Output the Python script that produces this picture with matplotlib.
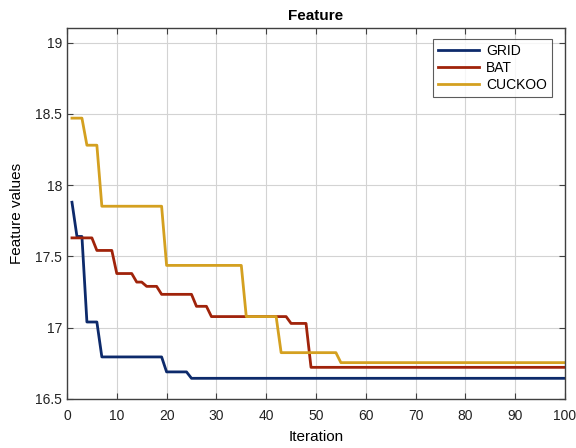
import numpy as np
import matplotlib
matplotlib.use("Agg")
import matplotlib.pyplot as plt

plt.rcParams['font.family'] = ['Liberation Sans', 'DejaVu Sans']

n_iter = 100

# Step-wise convergence curves: iteration where each level starts, and the level
grid_start = [1, 2, 4, 7, 20, 25]
grid_vals = [17.88, 17.64, 17.04, 16.795, 16.69, 16.645]

bat_start = [1, 6, 10, 14, 16, 19, 26, 29, 45, 49]
bat_vals = [17.63, 17.542, 17.38, 17.32, 17.29, 17.234, 17.15, 17.078, 17.03, 16.722]

cuckoo_start = [1, 4, 7, 20, 36, 43, 55]
cuckoo_vals = [18.47, 18.28, 17.852, 17.437, 17.078, 16.825, 16.755]

labels = ['GRID', 'BAT', 'CUCKOO']
colors = ['#0d2a6b', '#a0230a', '#d4a020']


def expand(starts, vals, n):
    lengths = np.diff(list(starts) + [n + 1])
    return np.repeat(vals, lengths)


iters = np.arange(1, n_iter + 1)
series = [expand(grid_start, grid_vals, n_iter),
          expand(bat_start, bat_vals, n_iter),
          expand(cuckoo_start, cuckoo_vals, n_iter)]

fig = plt.figure(figsize=(5.76, 4.48), dpi=100)
ax = fig.add_axes([0.1163, 0.1094, 0.8646, 0.8274])

for y, lab, c in zip(series, labels, colors):
    ax.plot(iters, y, color=c, lw=2.0, label=lab)

ax.set_xlim(0, 100)
ax.set_ylim(16.5, 19.1)
ax.set_xticks(np.arange(0, 101, 10))
ax.set_yticks([16.5, 17, 17.5, 18, 18.5, 19])
ax.set_yticklabels(['16.5', '17', '17.5', '18', '18.5', '19'])
ax.grid(True, color='#d3d3d3', lw=0.8)
ax.set_axisbelow(True)
ax.tick_params(direction='in', top=True, right=True, labelsize=10, length=4,
               color='#404040', labelcolor='#222222')
ax.tick_params(axis='x', pad=7)
for s in ax.spines.values():
    s.set_color('#404040')
    s.set_linewidth(1.0)

ax.set_title('Feature', fontsize=11, fontweight='bold', pad=6)
ax.set_xlabel('Iteration', fontsize=11, labelpad=5)
ax.set_ylabel('Feature values', fontsize=11, labelpad=8)

leg = ax.legend(loc='upper right', bbox_to_anchor=(0.974, 0.97), borderaxespad=0,
                fontsize=10, frameon=True, fancybox=False, edgecolor='#333333',
                handlelength=3.0, handletextpad=0.5, borderpad=0.35,
                labelspacing=0.2)
leg.get_frame().set_linewidth(0.8)

fig.savefig('out.png', dpi=100, facecolor='white')
